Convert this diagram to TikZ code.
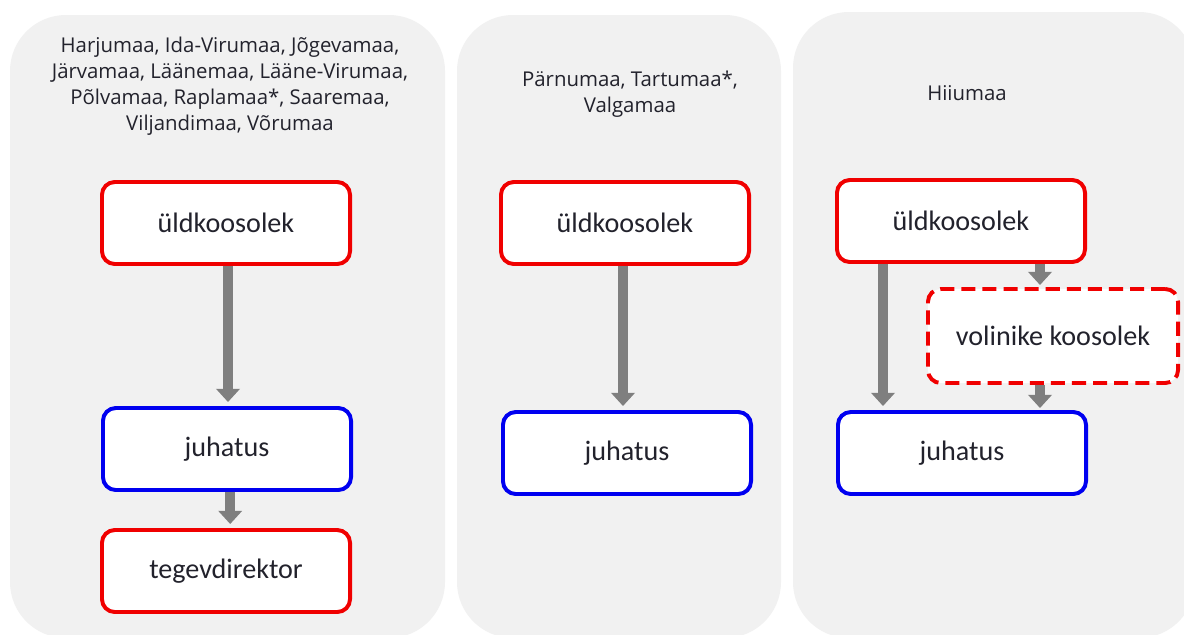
\documentclass[tikz,border=0pt]{standalone}
\usepackage{fontspec}
\setmainfont{Carlito}
\newfontfamily\titlefont{Open Sans}
\usetikzlibrary{arrows.meta}
\definecolor{panelgray}{HTML}{F1F1F1}
\definecolor{txt}{HTML}{22222C}
\definecolor{bred}{HTML}{F00000}
\definecolor{bblue}{HTML}{0000F0}
\definecolor{agray}{HTML}{7F7F7F}
\tikzset{
  panel/.style={fill=panelgray, draw=none, rounded corners=1.4cm},
  title/.style={font=\titlefont\fontsize{14.5}{18.6}\selectfont, text=txt, align=center},
  box/.style={draw, fill=white, line width=2.8pt, rounded corners=0.32cm,
    minimum width=6.2cm, minimum height=2.05cm, inner sep=0pt,
    font=\fontsize{20}{24}\selectfont, text=txt},
  redbox/.style={box, draw=bred},
  bluebox/.style={box, draw=bblue},
  dashbox/.style={box, draw=bred, dash pattern=on 10pt off 5pt, minimum width=6.25cm, minimum height=2.35cm},
  arr/.style={draw=agray, line width=7pt, -{Triangle[width=0.58cm,length=0.33cm]}}
}
\begin{document}
\begin{tikzpicture}[x=0.025cm,y=-0.025cm]
\useasboundingbox (0,0) rectangle (1184,634);
\clip (0,0) rectangle (1184,634);
\fill[white] (0,0) rectangle (1184,634);
% panels
\path[panel] (10,15) rectangle (445,638);
\path[panel] (457,15) rectangle (781,638);
\path[panel] (793,12) rectangle (1195,638);
% titles
\node[title] (t1) at (230,86) {Harjumaa, Ida-Virumaa, Jõgevamaa,\\Järvamaa, Läänemaa, Lääne-Virumaa,\\Põlvamaa, Raplamaa*, Saaremaa,\\Viljandimaa, Võrumaa};
\node[title] (t2) at (630,94) {Pärnumaa, Tartumaa*,\\Valgamaa};
\node[title] (t3) at (967,93) {Hiiumaa};
% panel 1
\node[redbox] (u1) at (226,223) {üldkoosolek};
\node[bluebox] (j1) at (227,449) {juhatus};
\node[redbox] (d1) at (226,571) {tegevdirektor};
\draw[arr] ([xshift=0.05cm]u1.south) -- ([xshift=0.05cm,yshift=0.1cm]u1.south |- j1.north);
\draw[arr] ([xshift=0.08cm]j1.south) -- ([xshift=0.08cm,yshift=0.1cm]j1.south |- d1.north);
% panel 2
\node[redbox] (u2) at (625,223) {üldkoosolek};
\node[bluebox] (j2) at (627,453) {juhatus};
\draw[arr] ([xshift=-0.05cm]u2.south) -- ([xshift=-0.05cm,yshift=0.1cm]u2.south |- j2.north);
% panel 3
\node[redbox] (u3) at (961,221) {üldkoosolek};
\node[dashbox] (v3) at (1053,336) {volinike koosolek};
\node[bluebox] (j3) at (962,453) {juhatus};
\coordinate (a1) at (883,0);
\coordinate (a2) at (1040,0);
\draw[arr] (a1 |- u3.south) -- ([yshift=0.1cm]a1 |- j3.north);
\draw[arr] (a2 |- u3.south) -- ([yshift=0.05cm]a2 |- v3.north);
\draw[arr] (a2 |- v3.south) -- ([yshift=0.05cm]a2 |- j3.north);
\end{tikzpicture}
\end{document}
